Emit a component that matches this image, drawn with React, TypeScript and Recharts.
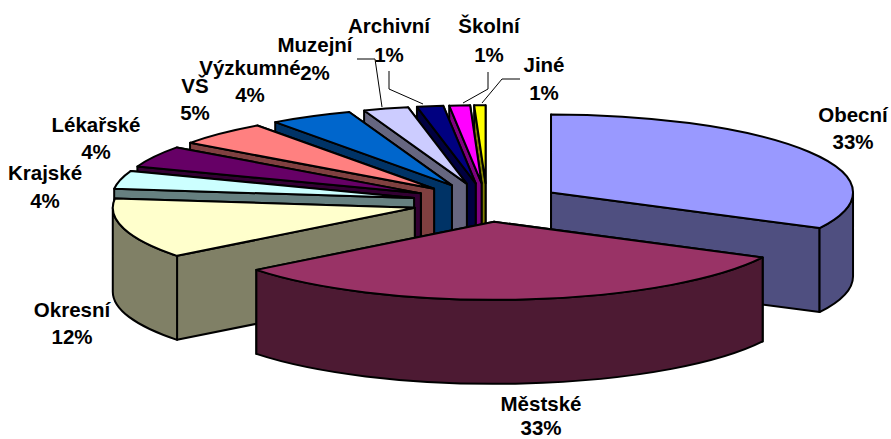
import { Pie, PieChart } from "recharts";

const categories = ["Obecní", "Městské", "Okresní", "Krajské", "Lékařské", "VŠ", "Výzkumné", "Muzejní", "Archivní", "Školní", "Jiné"];
const shares = [32.4, 31.7, 12.4, 3.7, 4.4, 5, 4.4, 2.4, 1.4, 1.1, 0.6];
// percentages as printed on the chart
const printedPercents = ["33%", "33%", "12%", "4%", "4%", "5%", "4%", "2%", "1%", "1%", "1%"];
const topColors = ["#9999FF", "#993366", "#FFFFCC", "#CCFFFF", "#660066", "#FF8080", "#0066CC", "#CCCCFF", "#000080", "#FF00FF", "#FFFF00"];
const wallColors = ["#4F4F80", "#4D1A33", "#808066", "#668080", "#330033", "#804040", "#003366", "#666680", "#000040", "#800080", "#808000"];

// painter's order: the back slices first, Městské on top of everything
const drawOrder = [10, 9, 8, 7, 6, 5, 4, 3, 2, 0, 1];

const table = categories.map((name, i) => ({
  name,
  value: shares[i],
  printed: printedPercents[i],
  fill: topColors[i],
  wall: wallColors[i],
}));

// the look of the 3D pie
const WIDTH = 891;
const HEIGHT = 439;
const CX = 487;
const CY = 202.5;
const RX = 302;
const TILT = 78 / 302;
const DEPTH = 84;
const EXPLODE = 75;

// where each label sits: centre x, first baseline, second baseline
const labelSpots: Record<string, [number, number, number]> = {
  "Obecní": [853, 122, 149],
  "Městské": [541, 411, 435],
  "Okresní": [72, 317, 344],
  "Krajské": [45, 180, 208],
  "Lékařské": [96, 132, 159],
  "VŠ": [195, 93, 120],
  "Výzkumné": [250, 75, 102],
  "Muzejní": [315, 52, 80],
  "Archivní": [389, 33, 62],
  "Školní": [489, 33, 62],
  "Jiné": [544, 72, 100],
};

const leaders: Record<string, string> = {
  "Muzejní": "357,59 375,59 382,107",
  "Archivní": "389,71 389,89 423,104",
  "Školní": "488,72 488,89 463,103",
  "Jiné": "520,79 502,79 482,103",
};

function Slice(props: any) {
  const { cx, cy, outerRadius, startAngle, endAngle, midAngle, fill, wall } = props;
  const rad = Math.PI / 180;
  const ry = outerRadius * TILT;
  const ax = cx + EXPLODE * Math.cos(midAngle * rad);
  const ay = cy - EXPLODE * TILT * Math.sin(midAngle * rad);
  const rim = (deg: number, drop = 0) =>
    `${ax + outerRadius * Math.cos(deg * rad)} ${ay - ry * Math.sin(deg * rad) + drop}`;
  const arc = (deg: number, sweep: number, drop = 0) => `A ${outerRadius} ${ry} 0 0 ${sweep} ${rim(deg, drop)}`;
  const radialWall = (deg: number) =>
    `M ${ax} ${ay} L ${rim(deg)} L ${rim(deg, DEPTH)} L ${ax} ${ay + DEPTH} Z`;

  // the outer wall only shows on the front half of the ellipse
  const wallFrom = Math.min(startAngle, 0);
  const wallTo = Math.max(endAngle, -180);
  const line = { stroke: "#000", strokeWidth: 2, strokeLinejoin: "round" as const };

  return (
    <g>
      <path d={radialWall(endAngle)} fill={wall} {...line} />
      <path d={radialWall(startAngle)} fill={wall} {...line} />
      {wallFrom > wallTo && (
        <path
          d={`M ${rim(wallFrom)} ${arc(wallTo, 1)} L ${rim(wallTo, DEPTH)} ${arc(wallFrom, 0, DEPTH)} Z`}
          fill={wall}
          {...line}
        />
      )}
      <path d={`M ${ax} ${ay} L ${rim(startAngle)} ${arc(endAngle, 1)} Z`} fill={fill} {...line} />
    </g>
  );
}

function SliceLabel(props: any) {
  const spot = labelSpots[props.name];
  return (
    <text fontFamily="Liberation Sans" fontWeight="bold" fontSize={20.5} fill="#000" textAnchor="middle">
      <tspan x={spot[0]} y={spot[1]}>{props.name}</tspan>
      <tspan x={spot[0]} y={spot[2]}>{props.printed}</tspan>
    </text>
  );
}

function Leader(props: any) {
  const points = leaders[props.name];
  if (!points) return <g />;
  return <polyline points={points} fill="none" stroke="#000" strokeWidth={1} />;
}

export default function App() {
  return (
    <div style={{ position: "absolute", left: 0, top: 0, width: WIDTH, height: HEIGHT, background: "#fff" }}>
      <PieChart width={WIDTH} height={HEIGHT} margin={{ top: 0, right: 0, bottom: 0, left: 0 }}>
        {drawOrder.map((which, i) => (
          <Pie
            key={which}
            data={table}
            dataKey="value"
            nameKey="name"
            cx={CX}
            cy={CY}
            innerRadius={0}
            outerRadius={RX}
            startAngle={90}
            endAngle={-270}
            isAnimationActive={false}
            shape={(p: any) => (p.name === categories[which] ? <Slice {...p} /> : <g />)}
            label={i === drawOrder.length - 1 ? SliceLabel : false}
            labelLine={i === drawOrder.length - 1 ? Leader : false}
          />
        ))}
      </PieChart>
    </div>
  );
}
